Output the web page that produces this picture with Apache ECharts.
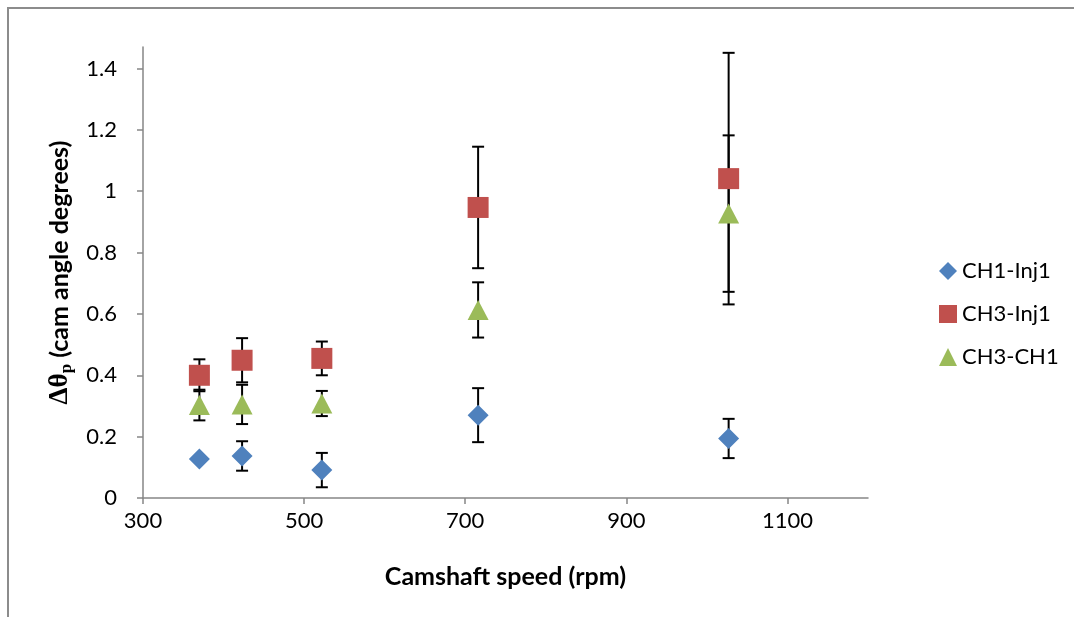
<!DOCTYPE html>
<html>
<head>
<meta charset="utf-8">
<script src="https://cdn.jsdelivr.net/npm/echarts@6/dist/echarts.min.js"></script>
<style>
  html, body { margin: 0; padding: 0; background: #fff; }
  #chart { width: 1074px; height: 617px; }
</style>
</head>
<body>
<div id="chart"></div>
<script>
// camshaft speed (rpm), shared by all series
const speeds = [370, 423, 522, 716, 1027];

const ch1Inj1 = [0.127, 0.137, 0.091, 0.270, 0.194];
const ch1Inj1Err = [0, 0.048, 0.056, 0.088, 0.064];

const ch3Inj1 = [0.400, 0.449, 0.455, 0.947, 1.041];
const ch3Inj1Err = [0.052, 0.072, 0.055, 0.198, 0.41];

const ch3Ch1 = [0.303, 0.305, 0.308, 0.613, 0.927];
const ch3Ch1Err = [0.05, 0.064, 0.041, 0.09, 0.255];

const xTicks = [300, 500, 700, 900, 1100];
const yTicks = [0, 0.2, 0.4, 0.6, 0.8, 1, 1.2, 1.4];

const colors = ['#4F81BD', '#C0504D', '#9BBB59'];
const axisGray = '#868686';
const font = 'Lato, "Open Sans", sans-serif';

const toPoints = (ys) => speeds.map((x, i) => [x, ys[i]]);
const toErr = (ys, errs) => speeds.map((x, i) => [x, ys[i] - errs[i], ys[i] + errs[i]]);

const errorSeries = (name, ys, errs) => ({
  name: name,
  type: 'custom',
  z: 1,
  silent: true,
  data: toErr(ys, errs),
  renderItem: (params, api) => {
    const lo = api.coord([api.value(0), api.value(1)]);
    const hi = api.coord([api.value(0), api.value(2)]);
    if (Math.abs(hi[1] - lo[1]) < 0.5) return null;
    const half = 6;
    const style = { stroke: '#000', lineWidth: 2 };
    return {
      type: 'group',
      children: [
        { type: 'line', shape: { x1: lo[0], y1: lo[1], x2: hi[0], y2: hi[1] }, style },
        { type: 'line', shape: { x1: lo[0] - half, y1: lo[1], x2: lo[0] + half, y2: lo[1] }, style },
        { type: 'line', shape: { x1: hi[0] - half, y1: hi[1], x2: hi[0] + half, y2: hi[1] }, style },
      ],
    };
  },
});

const pointSeries = (name, ys, symbol, size, color) => ({
  name: name,
  type: 'scatter',
  z: 3,
  symbol: symbol,
  symbolSize: size,
  itemStyle: { color: color, opacity: 1 },
  data: toPoints(ys),
});

const legendText = { fontFamily: font, fontSize: 22, color: '#000' };

const chart = echarts.init(document.getElementById('chart'));
chart.setOption({
  animation: false,
  color: colors,
  graphic: [
    {
      type: 'rect',
      shape: { x: 8, y: 8, width: 1200, height: 800 },
      style: { fill: 'none', stroke: '#8c8c8c', lineWidth: 2 },
      z: 0,
    },
  ],
  legend: {
    orient: 'vertical',
    left: 934,
    top: 255,
    itemGap: 21,
    itemWidth: 18,
    itemHeight: 18,
    data: [
      { name: 'CH1-Inj1', icon: 'diamond', itemStyle: { color: colors[0] }, textStyle: legendText },
      { name: 'CH3-Inj1', icon: 'rect', itemStyle: { color: colors[1] }, textStyle: legendText },
      { name: 'CH3-CH1', icon: 'triangle', itemStyle: { color: colors[2] }, textStyle: legendText },
    ],
  },
  grid: {
    left: 143,
    right: 206,
    top: 47,
    bottom: 119,
  },
  xAxis: {
    type: 'value',
    min: 300,
    max: 1200,
    name: 'Camshaft speed (rpm)',
    nameLocation: 'middle',
    nameGap: 66,
    nameTextStyle: { fontFamily: font, fontSize: 25, fontWeight: 'bold', color: '#000' },
    splitLine: { show: false },
    axisLine: { lineStyle: { color: axisGray, width: 1.5 } },
    axisTick: { show: true, length: 6, lineStyle: { color: axisGray, width: 1.5 }, customValues: xTicks },
    axisLabel: { fontFamily: font, fontSize: 22, color: '#000', margin: 12, customValues: xTicks, formatter: (v) => String(v) },
  },
  yAxis: {
    type: 'value',
    min: 0,
    max: 1.47,
    name: '{g|Δθ}{sub|p}{t| (cam angle degrees)}',
    nameLocation: 'middle',
    nameRotate: 90,
    nameGap: 68,
    nameTextStyle: {
      color: '#000',
      rich: {
        g: { fontFamily: '"Liberation Serif", serif', fontSize: 27, fontWeight: 'bold', color: '#000' },
        sub: { fontFamily: '"Liberation Serif", serif', fontSize: 17, fontWeight: 'bold', color: '#000', padding: [13, 0, 0, 0] },
        t: { fontFamily: font, fontSize: 25, fontWeight: 'bold', color: '#000' },
      },
    },
    splitLine: { show: false },
    axisLine: { lineStyle: { color: axisGray, width: 1.5 } },
    axisTick: { show: true, length: 6, lineStyle: { color: axisGray, width: 1.5 }, customValues: yTicks },
    axisLabel: { fontFamily: font, fontSize: 22, color: '#000', margin: 26, customValues: yTicks },
  },
  series: [
    errorSeries('err1', ch1Inj1, ch1Inj1Err),
    errorSeries('err2', ch3Inj1, ch3Inj1Err),
    errorSeries('err3', ch3Ch1, ch3Ch1Err),
    pointSeries('CH1-Inj1', ch1Inj1, 'diamond', 21, colors[0]),
    pointSeries('CH3-Inj1', ch3Inj1, 'rect', 21, colors[1]),
    pointSeries('CH3-CH1', ch3Ch1, 'triangle', [21, 20], colors[2]),
  ],
});
</script>
</body>
</html>
